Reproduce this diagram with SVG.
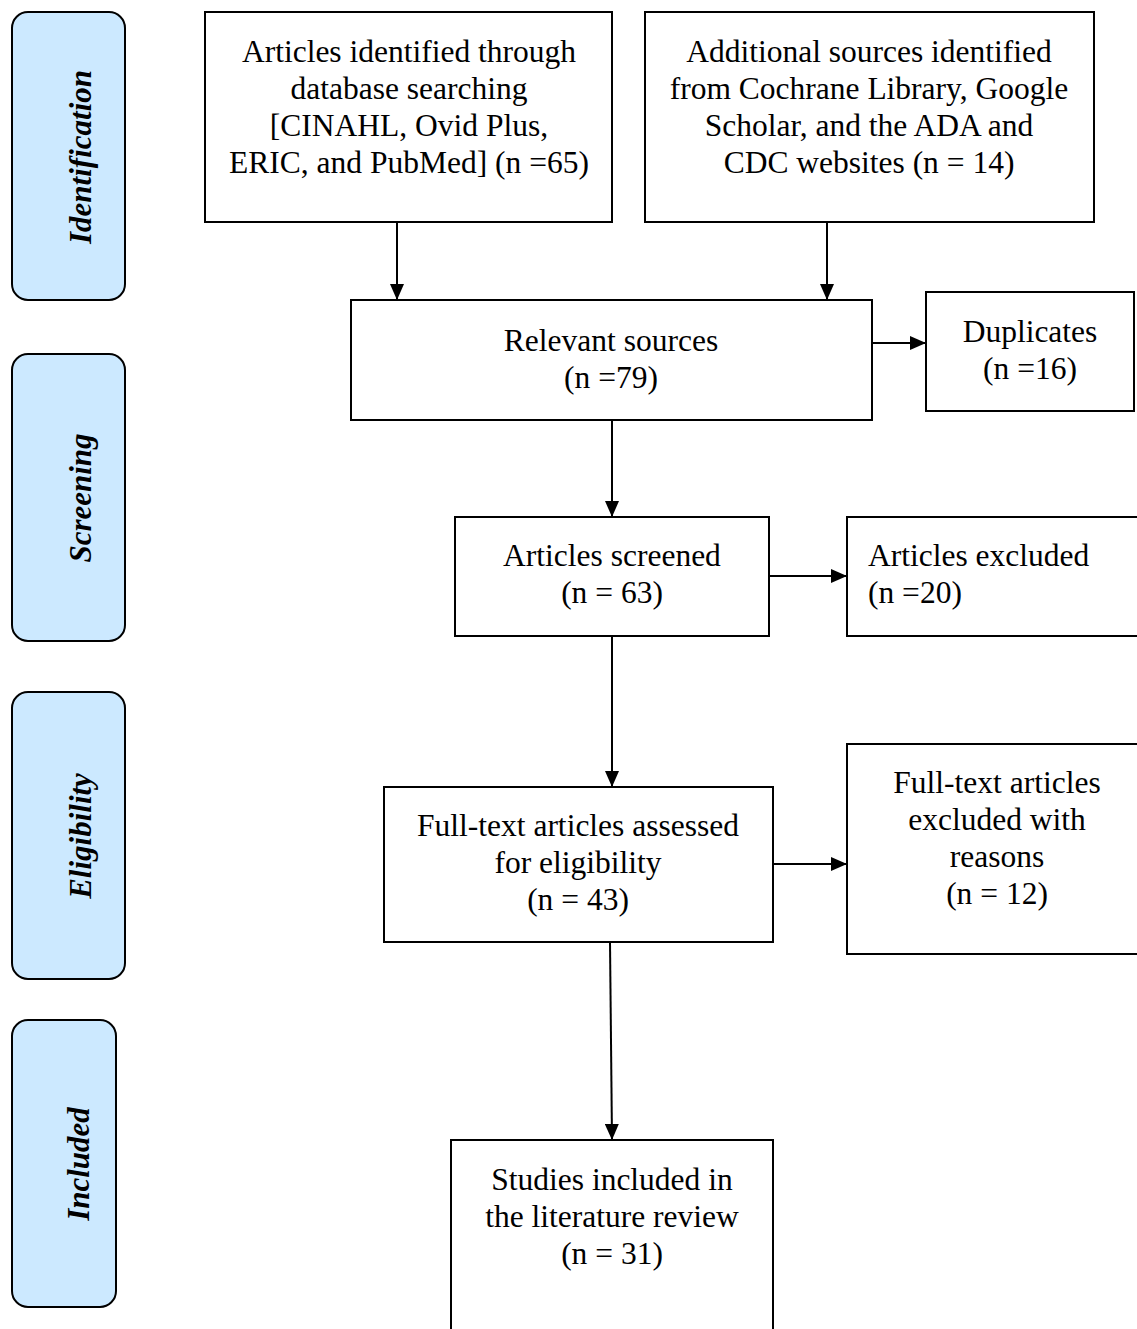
<svg xmlns="http://www.w3.org/2000/svg" width="1137" height="1329" viewBox="0 0 1137 1329">
<style>
.box{fill:#fff;stroke:#000;stroke-width:2}
.band{fill:#cce9ff;stroke:#000;stroke-width:2}
text{font-family:'Liberation Serif','Tinos','DejaVu Serif',serif;font-size:31.5px;fill:#000}
.t{text-anchor:middle}
.side{font-size:31px;font-weight:bold;font-style:italic;text-anchor:middle}
.c{stroke:#000;stroke-width:2;fill:none;marker-end:url(#ah)}
</style>
<defs>
<marker id="ah" markerWidth="16" markerHeight="14" refX="16" refY="7" orient="auto" markerUnits="userSpaceOnUse">
<path d="M0,0 L16,7 L0,14 Z" fill="#000"/>
</marker>
</defs>
<rect width="1137" height="1329" fill="#fff"/>
<g id="band-identification">
<rect class="band" x="12" y="12" width="113" height="288" rx="16"/>
<text class="side" transform="translate(91,157) rotate(-90)">Identification</text>
</g>
<g id="band-screening">
<rect class="band" x="12" y="354" width="113" height="287" rx="16"/>
<text class="side" transform="translate(91,498) rotate(-90)">Screening</text>
</g>
<g id="band-eligibility">
<rect class="band" x="12" y="692" width="113" height="287" rx="16"/>
<text class="side" transform="translate(91,836) rotate(-90)">Eligibility</text>
</g>
<g id="band-included">
<rect class="band" x="12" y="1020" width="104" height="287" rx="16"/>
<text class="side" transform="translate(89,1164) rotate(-90)">Included</text>
</g>
<g id="db-search">
<rect class="box" x="205" y="12" width="407" height="210"/>
<text class="t" x="409" y="62">Articles identified through</text>
<text class="t" x="409" y="99">database searching</text>
<text class="t" x="409" y="136">[CINAHL, Ovid Plus,</text>
<text class="t" x="409" y="173">ERIC, and PubMed] (n =65)</text>
</g>
<g id="additional">
<rect class="box" x="645" y="12" width="449" height="210"/>
<text class="t" x="869" y="62">Additional sources identified</text>
<text class="t" x="869" y="99">from Cochrane Library, Google</text>
<text class="t" x="869" y="136">Scholar, and the ADA and</text>
<text class="t" x="869" y="173">CDC websites (n = 14)</text>
</g>
<g id="relevant">
<rect class="box" x="351" y="300" width="521" height="120"/>
<text class="t" x="611" y="351">Relevant sources</text>
<text class="t" x="611" y="388">(n =79)</text>
</g>
<g id="duplicates">
<rect class="box" x="926" y="292" width="208" height="119"/>
<text class="t" x="1030" y="342">Duplicates</text>
<text class="t" x="1030" y="379">(n =16)</text>
</g>
<g id="screened">
<rect class="box" x="455" y="517" width="314" height="119"/>
<text class="t" x="612" y="566">Articles screened</text>
<text class="t" x="612" y="603">(n = 63)</text>
</g>
<g id="excluded">
<rect class="box" x="847" y="517" width="300" height="119"/>
<text x="868" y="566">Articles excluded</text>
<text x="868" y="603">(n =20)</text>
</g>
<g id="fulltext">
<rect class="box" x="384" y="787" width="389" height="155"/>
<text class="t" x="578" y="836">Full-text articles assessed</text>
<text class="t" x="578" y="873">for eligibility</text>
<text class="t" x="578" y="910">(n = 43)</text>
</g>
<g id="fulltext-excluded">
<rect class="box" x="847" y="744" width="300" height="210"/>
<text class="t" x="997" y="793">Full-text articles</text>
<text class="t" x="997" y="830">excluded with</text>
<text class="t" x="997" y="867">reasons</text>
<text class="t" x="997" y="904">(n = 12)</text>
</g>
<g id="included">
<rect class="box" x="451" y="1140" width="322" height="200"/>
<text class="t" x="612" y="1190">Studies included in</text>
<text class="t" x="612" y="1227">the literature review</text>
<text class="t" x="612" y="1264">(n = 31)</text>
</g>
<g id="connectors">
<line class="c" x1="397" y1="222" x2="397" y2="300"/>
<line class="c" x1="827" y1="222" x2="827" y2="300"/>
<line class="c" x1="872" y1="343" x2="926" y2="343"/>
<line class="c" x1="612" y1="420" x2="612" y2="517"/>
<line class="c" x1="769" y1="576" x2="847" y2="576"/>
<line class="c" x1="612" y1="636" x2="612" y2="787"/>
<line class="c" x1="773" y1="864" x2="847" y2="864"/>
<line class="c" x1="610" y1="942" x2="612" y2="1140"/>
</g>
</svg>
